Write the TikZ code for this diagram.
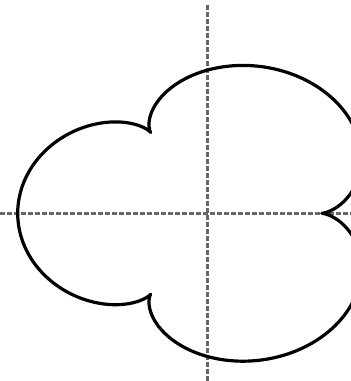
\documentclass[tikz,border=0pt]{standalone}
\usepackage{tikz}

\tikzset{
  axisline/.style={draw=black!60, line width=2.6pt, dash pattern=on 5pt off 2pt},
  curveline/.style={draw=black, line width=3.2pt, line join=round}
}

\begin{document}
\begin{tikzpicture}[x=1pt,y=-1pt]
\useasboundingbox (0,0) rectangle (351,381);
\clip (0,0) rectangle (351,381);
\coordinate (O) at (207.7,213.3);
\coordinate (xl) at (0,213.3);
\coordinate (xr) at (351,213.3);
\coordinate (yt) at (207.7,5);
\coordinate (yb) at (207.7,381);
\draw[axisline] (xl)--(xr);
\draw[axisline] (yt)--(yb);
\draw[curveline] plot[domain=0:360, samples=361, variable=\t]
  ({207.7+38*(4*cos(\t)-cos(4*\t))},{213.3-31.1*(4*sin(\t)-sin(4*\t))}) -- cycle;
\end{tikzpicture}
\end{document}
